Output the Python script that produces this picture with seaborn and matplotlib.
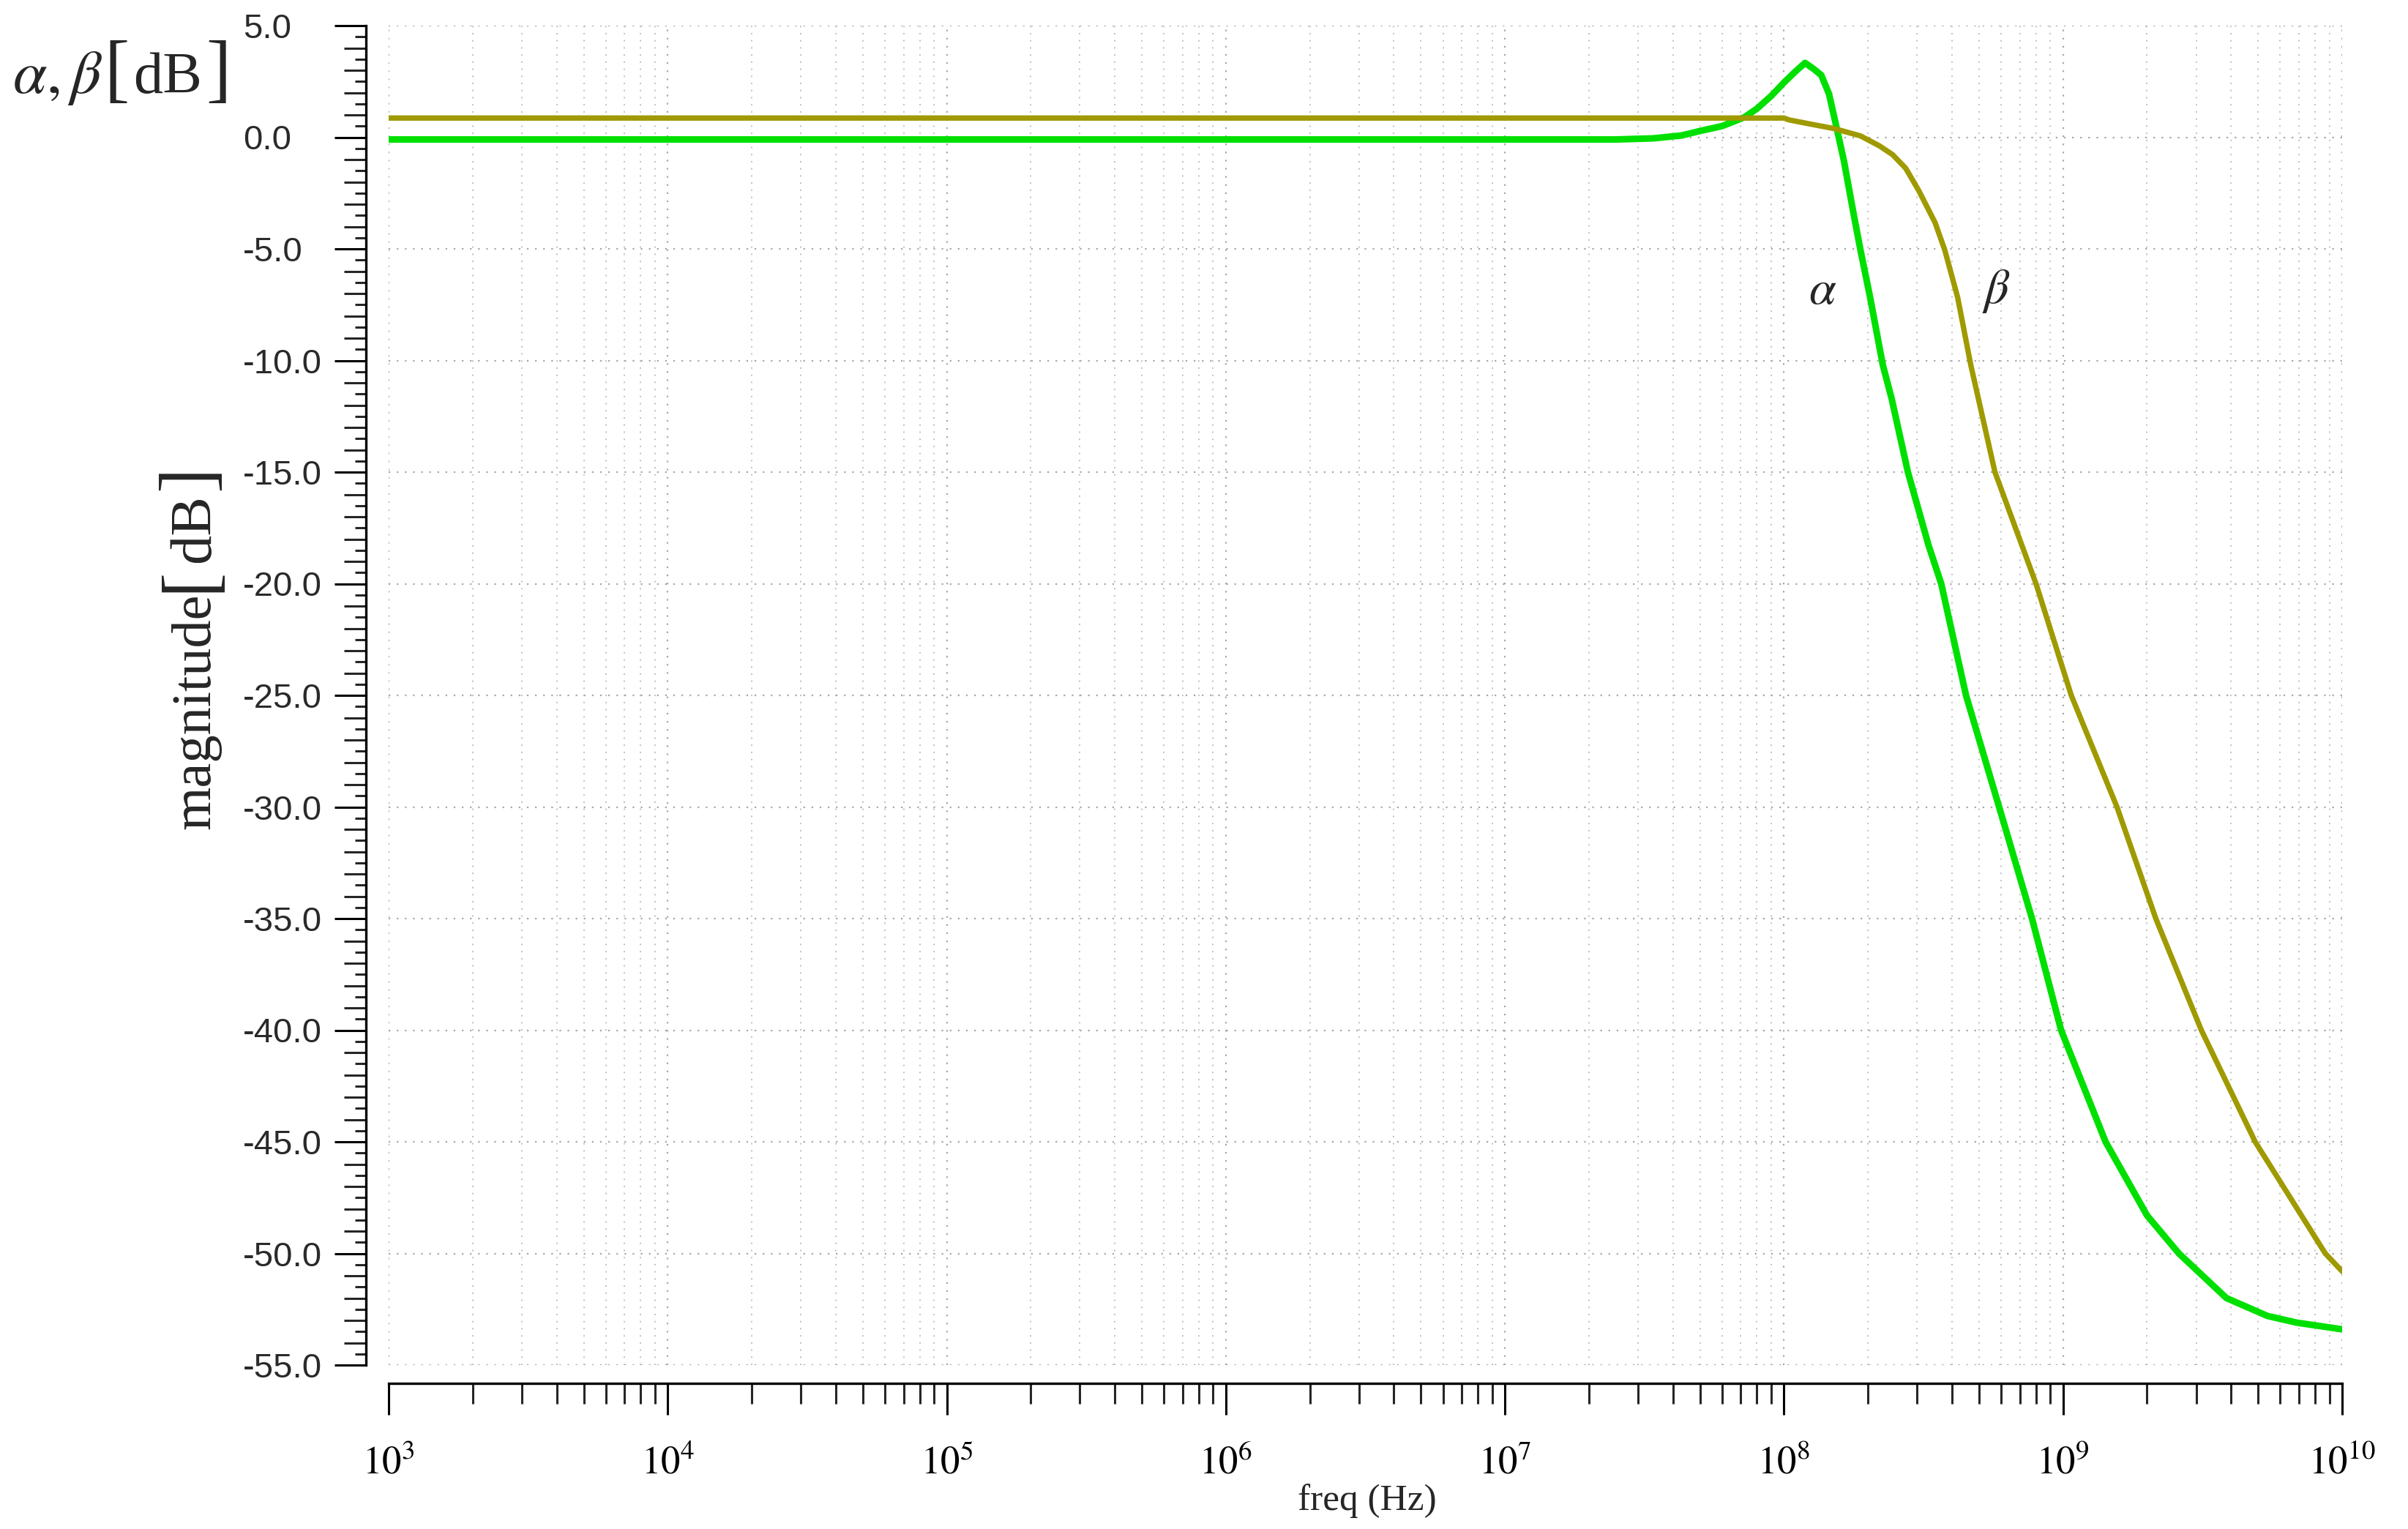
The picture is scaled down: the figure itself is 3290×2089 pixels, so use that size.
import matplotlib
matplotlib.use("Agg")
from matplotlib import pyplot as plt
from matplotlib.ticker import (MultipleLocator, FixedLocator, NullLocator, LogLocator,
                               NullFormatter, FuncFormatter, FormatStrFormatter)
import numpy as np
import seaborn as sns

# alpha curve (green)
alpha_freq = [1e3, 1e4, 1e5, 1e6, 1e7, 2.5e7, 3.4e7, 4.3e7, 5e7, 6e7, 7.2e7, 8e7, 9e7,
              1.0e8, 1.1e8, 1.19e8, 1.28e8, 1.36e8, 1.45e8, 1.56e8, 1.64e8, 1.78e8,
              1.88e8, 2.03e8, 2.26e8, 2.43e8, 2.78e8, 3.3e8, 3.66e8, 4.49e8, 5.9e8,
              7.74e8, 9.84e8, 1.42e9, 2.0e9, 2.6e9, 3.85e9, 5.4e9, 6.87e9, 1e10]
alpha_db = [-0.1, -0.1, -0.1, -0.1, -0.1, -0.1, -0.05, 0.08, 0.28, 0.5, 0.89, 1.28, 1.85,
            2.45, 2.95, 3.33, 3.05, 2.78, 1.94, 0.17, -1.06, -3.5,
            -5.06, -7.1, -10.2, -11.7, -15.0, -18.3, -20.0, -25.0, -30.0,
            -35.0, -40.0, -45.0, -48.3, -50.0, -52.0, -52.8, -53.1, -53.4]

# beta curve (olive)
beta_freq = [1e3, 1e4, 1e5, 1e6, 1e7, 1e8, 1.04e8, 1.22e8, 1.51e8, 1.88e8, 2.2e8, 2.45e8,
             2.73e8, 3.04e8, 3.48e8, 3.77e8, 4.19e8, 4.67e8, 5.7e8, 8.0e8, 1.07e9,
             1.56e9, 2.15e9, 3.13e9, 4.88e9, 8.7e9, 1e10]
beta_db = [0.86, 0.86, 0.86, 0.86, 0.86, 0.86, 0.78, 0.61, 0.39, 0.06, -0.39, -0.78,
           -1.39, -2.39, -3.83, -5.06, -7.17, -10.2, -15.0, -20.0, -25.0,
           -30.0, -35.0, -40.0, -45.0, -50.0, -50.8]

alpha_color = "#00e000"
beta_color = "#9f9a00"

sns.set_style("ticks")
plt.rcParams['font.family'] = ['Liberation Sans', 'DejaVu Sans']
plt.rcParams['mathtext.fontset'] = 'stix'
plt.rcParams['axes.unicode_minus'] = False

W, H = 3290, 2089
fig = plt.figure(figsize=(W / 100, H / 100), dpi=100)
ax = fig.add_axes([531 / W, 1 - 1865 / H, (3200 - 531) / W, (1865 - 35) / H])

sns.lineplot(x=alpha_freq, y=alpha_db, color=alpha_color, lw=6.5, ax=ax)
sns.lineplot(x=beta_freq, y=beta_db, color=beta_color, lw=5.3, ax=ax)

ax.set_xscale('log')
ax.set_xlim(1e3, 1e10)
ax.set_ylim(-55, 5)

ax.yaxis.set_major_locator(MultipleLocator(5))
ax.yaxis.set_minor_locator(MultipleLocator(1))
ax.yaxis.set_major_formatter(FormatStrFormatter('%.1f'))
ax.xaxis.set_major_locator(LogLocator(base=10, numticks=20))
ax.xaxis.set_minor_locator(LogLocator(base=10, subs=np.arange(2, 10), numticks=20))
ax.xaxis.set_minor_formatter(NullFormatter())
ax.xaxis.set_major_formatter(FuncFormatter(lambda v, p: r'$10^{%d}$' % round(np.log10(v))))

for s in ['top', 'right']:
    ax.spines[s].set_visible(False)
ax.spines['left'].set_position(('outward', 22.3))
ax.spines['bottom'].set_position(('outward', 18))
for s in ['left', 'bottom']:
    ax.spines[s].set_linewidth(2.4)
    ax.spines[s].set_color('black')

ax.tick_params(axis='y', which='major', direction='out', length=31, width=2.2, pad=90,
               labelsize=34, colors='black')
ax.tick_params(axis='y', which='minor', direction='out', length=21.6, width=2.2)
ax.tick_params(axis='x', which='major', direction='out', length=31, width=2.2, pad=30,
               labelsize=38, colors='black')
ax.tick_params(axis='x', which='minor', direction='out', length=20, width=2.2)
plt.setp(ax.get_yticklabels(), ha='left', color='#2a2a2a')

# half-dB ticks
sec = ax.secondary_yaxis(-31 / (3200 - 531), functions=(lambda v: v, lambda v: v))
sec.yaxis.set_major_locator(FixedLocator(np.arange(-54.5, 5, 1.0)))
sec.yaxis.set_minor_locator(NullLocator())
sec.tick_params(axis='y', which='major', direction='out', length=10.8, width=2.2, labelleft=False)
for s in sec.spines.values():
    s.set_visible(False)

ax.grid(True, which='major', axis='both', color='#a8a8a8', linestyle=(0, (1, 4)), linewidth=1.6)
ax.grid(True, which='minor', axis='x', color='#c0c0c0', linestyle=(0, (1, 4)), linewidth=1.4)

ax.text(1.38e8, -6.9, r'$\alpha$', fontsize=48, ha='center', va='center')
ax.text(5.75e8, -6.9, r'$\beta$', fontsize=48, ha='center', va='center')

# corner label  alpha,beta [dB]
yb = 1 - 127 / H
t = fig.text(17 / W, yb, r'$\alpha,\beta$', fontsize=60, ha='left', va='baseline')
for s, size, dx in [('[', 74, 1), ('dB', 58, 4), (']', 74, 4)]:
    t = ax.annotate(s, xy=(1, yb), xycoords=(t, 'figure fraction'), xytext=(dx, 0),
                    textcoords='offset points', fontsize=size, family='Liberation Serif',
                    ha='left', va='baseline', annotation_clip=False)

# y label  magnitude [dB]
xb = 286 / W
t = fig.text(xb, 1 - 1133 / H, 'magnitude', fontsize=55, family='Liberation Serif',
             rotation=90, rotation_mode='anchor', ha='left', va='baseline')
for s, size, dy in [('[', 74, 1), ('dB', 58, 4), (']', 74, 4)]:
    t = ax.annotate(s, xy=(xb, 1), xycoords=('figure fraction', t), xytext=(0, dy),
                    textcoords='offset points', fontsize=size, family='Liberation Serif',
                    rotation=90, rotation_mode='anchor', ha='left', va='baseline',
                    annotation_clip=False)

fig.text(1868 / W, 1 - 2063 / H, 'freq (Hz)', family='Liberation Serif', fontsize=37,
         ha='center', va='baseline')

plt.savefig("out.png", dpi=100)
